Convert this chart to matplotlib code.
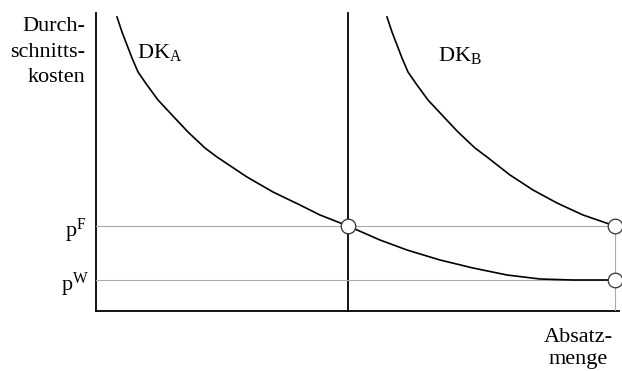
import matplotlib
matplotlib.use("Agg")
import matplotlib.pyplot as plt

plt.rcParams['font.family'] = 'Liberation Serif'
plt.rcParams['mathtext.fontset'] = 'custom'
plt.rcParams['mathtext.rm'] = 'Liberation Serif'
plt.rcParams['mathtext.it'] = 'Liberation Serif:italic'

# Durchschnittskosten A (Menge, Kosten)
dka_x = [21, 26, 31, 36, 42, 51, 62, 76, 92, 109, 121, 151, 177, 204, 224, 252,
         284, 311, 344, 377, 411, 444, 477, 507, 519]
dka_y = [294, 279, 266, 253, 239, 226, 211, 196, 179, 163, 154, 134, 119, 106, 96, 85,
         71, 61, 51, 43, 36, 32, 31, 31, 31]

# Durchschnittskosten B
dkb_x = [291, 296, 301, 306, 312, 321, 332, 346, 362, 379, 391, 414, 437, 461, 487, 519]
dkb_y = [294, 279, 266, 253, 239, 226, 211, 196, 179, 163, 154, 136, 121, 108, 96, 85]

p_f = 85       # Preis F
p_w = 31       # Preis W
x_a = 252      # Absatzmenge A
x_max = 519    # max. Absatzmenge
x_end = 523
y_top = 298

fig = plt.figure(figsize=(6.22, 3.71), dpi=100, facecolor='white')
ax = fig.add_axes([96/622, 60/371, 523/622, 298/371])
ax.set_xlim(0, x_end)
ax.set_ylim(0, y_top)
ax.axis('off')

# axes
ax.plot([0, 0], [0, y_top], color='black', lw=1.3, clip_on=False)
ax.plot([0, x_end], [0, 0], color='black', lw=1.3, clip_on=False)
ax.plot([x_a, x_a], [0, y_top], color='black', lw=1.3, clip_on=False)

# helper lines
ax.plot([0, x_max], [p_f, p_f], color='#aaaaaa', lw=0.8)
ax.plot([0, x_max], [p_w, p_w], color='#aaaaaa', lw=0.8)
ax.plot([x_max, x_max], [0, p_f], color='#aaaaaa', lw=0.8)

# curves
ax.plot(dka_x, dka_y, color='black', lw=1.2, clip_on=False)
ax.plot(dkb_x, dkb_y, color='black', lw=1.2, clip_on=False)

# points
ax.plot([x_a, x_max, x_max], [p_f, p_f, p_w], 'o', ms=10.5, mfc='white',
        mec='#333333', mew=0.9, clip_on=False, zorder=5)

fs = 16
# multi-line text: baseline refers to the last line
ax.text(-11, 229, 'Durch-\nschnitts-\nkosten', fontsize=fs, ha='right', va='baseline',
        multialignment='right', linespacing=1.45)
ax.text(41, 253, r'DK$_{\rm A}$', fontsize=fs, ha='left', va='baseline')
ax.text(342, 250, r'DK$_{\rm B}$', fontsize=fs, ha='left', va='baseline')
ax.text(-10, 74, r'p$^{\rm F}$', fontsize=fs, ha='right', va='baseline')
ax.text(-7, 20, r'p$^{\rm W}$', fontsize=fs, ha='right', va='baseline')
ax.text(517, -53, 'Absatz-\nmenge', fontsize=fs, ha='right', va='baseline',
        multialignment='center', linespacing=1.2, clip_on=False)

fig.savefig('out.png', dpi=100)
